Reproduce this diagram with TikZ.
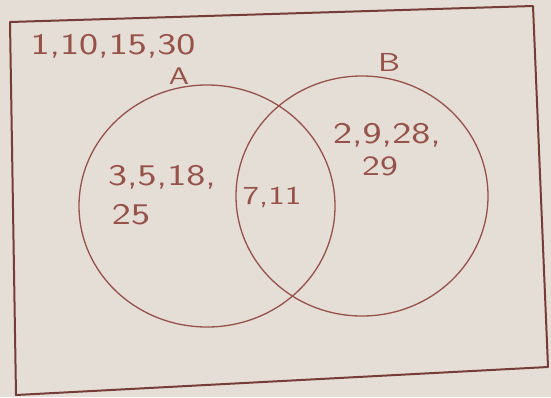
\documentclass[tikz,border=0pt]{standalone}
\usepackage{graphicx}
\usepackage{tikz}

\definecolor{paper}{RGB}{228,222,215}
\definecolor{ink}{RGB}{150,82,72}
\definecolor{frame}{RGB}{118,60,55}

\begin{document}
\begin{tikzpicture}[x=1pt,y=-1pt]
	\fill [paper] (0,0) rectangle (551,397);
	\useasboundingbox (0,0) rectangle (551,397);
	% universal set
	\draw [frame,line width=2pt,line join=round] (10,22) -- (533,6) -- (548,367) -- (16,395) -- cycle;
	% the two sets
	\draw [ink,line width=1.3pt] (207,206) ellipse [x radius=128, y radius=121];
	\draw [ink,line width=1.3pt] (362,196) ellipse [x radius=126, y radius=120];
	\begin{scope}[every node/.style={text=ink,inner sep=0pt,font=\sffamily\fontsize{30}{32}\selectfont,xscale=1.35,transform shape}]
	\node (rest) at (113,46) {1,10,15,30};
	\node (labA) at (179,76) {\fontsize{24}{26}\selectfont A};
	\node (labB) at (389,62) {\fontsize{26}{28}\selectfont B};
	\node (onlyA) at (162,177) {3,5,18,};
	\node (onlyA2) at (131,215) {25};
	\node (both) at (272,197) {\fontsize{26}{28}\selectfont 7,11};
	\node (onlyB) at (387,135) {2,9,28,};
	\node (onlyB2) at (380,166) {\fontsize{28}{30}\selectfont 29};
	\end{scope}
\end{tikzpicture}
\end{document}
